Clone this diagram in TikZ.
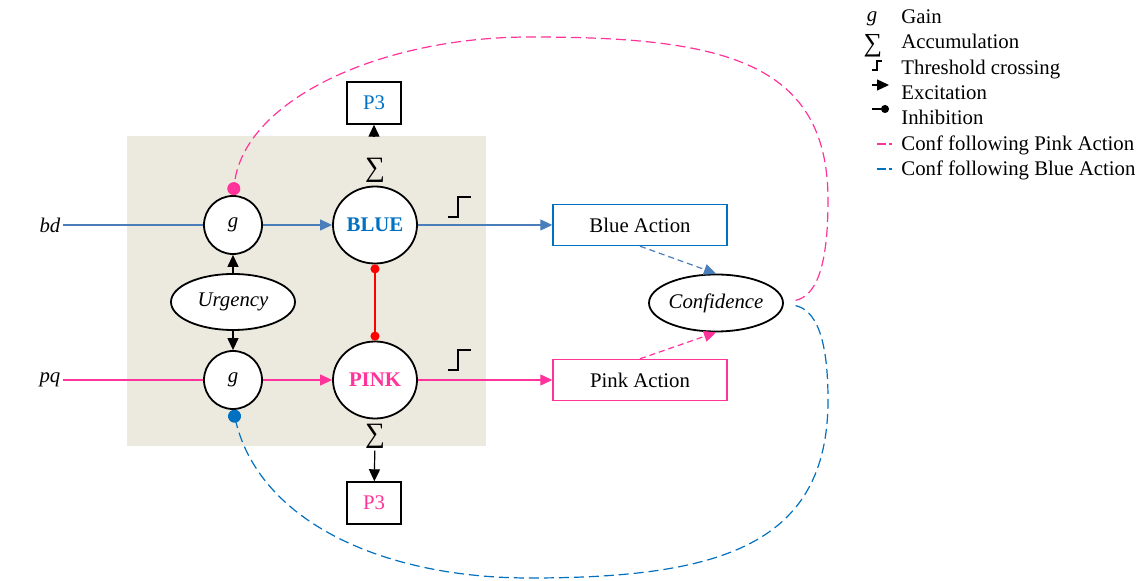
\documentclass[tikz,border=0pt]{standalone}
\usepackage{fontspec}
\setmainfont{Liberation Serif}
\usepackage{tikz}
\usetikzlibrary{arrows.meta,shapes.geometric}
\definecolor{bluetxt}{HTML}{0070C0}
\definecolor{blueln}{HTML}{4A7EBB}
\definecolor{pinkln}{HTML}{FF3399}
\definecolor{panelbg}{HTML}{ECE9DF}

\begin{document}
\begin{tikzpicture}[x=0.5pt, y=-0.5pt, font=\fontsize{10.4pt}{12.5pt}\selectfont,
    unit/.style={draw, line width=0.9pt, fill=white, circle, minimum size=29pt, inner sep=0pt},
    accum/.style={draw, line width=0.9pt, fill=white, ellipse, minimum width=42pt, minimum height=38.5pt, inner sep=0pt, font=\fontsize{10.4pt}{12.5pt}\selectfont\bfseries},
    oval/.style={draw, line width=0.9pt, fill=white, ellipse, minimum width=62pt, minimum height=28pt, inner sep=0pt, font=\fontsize{10.4pt}{12.5pt}\selectfont\itshape},
    actbox/.style={draw, line width=0.7pt, minimum width=87pt, minimum height=20.5pt, inner sep=0pt},
    outbox/.style={draw=black, line width=0.7pt, minimum width=27pt, minimum height=21pt, inner sep=0pt},
    sumsym/.style={inner sep=1pt, font=\fontsize{14pt}{15pt}\selectfont},
    exc/.style={line width=0.6pt, -{Triangle[length=6pt,width=5.5pt]}},
    inh/.style={line width=0.7pt, red, {Circle[length=4.5pt]}-{Circle[length=4.5pt]}},
    conflink/.style={line width=0.6pt, dash pattern=on 5pt off 2.5pt, -{Circle[length=6.5pt]}},
    choice/.style={line width=0.6pt, dash pattern=on 3pt off 2pt, -{Triangle[length=6pt,width=5.5pt]}},
    thresh/.style={line width=1.4pt},
    lbl/.style={anchor=base west, inner sep=0pt}]
    \useasboundingbox (0,0) rectangle (1145,581);

    \node[fill=panelbg, minimum width=179.5pt, minimum height=155pt, inner sep=0pt] (panel) at (306.5,291) {};

    \node[unit] (gB) at (233,225) {\textit{g}};
    \node[unit] (gP) at (233,380) {\textit{g}};
    \node[oval] (urg) at (233,302) {Urgency};
    \node[accum, text=bluetxt] (blue) at (375,225) {BLUE};
    \node[accum, text=pinkln] (pink) at (375,380) {PINK};
    \node[sumsym] (sigB) at (375,170) {∑};
    \node[sumsym] (sigP) at (375,436) {∑};
    \node[outbox, text=bluetxt] (p3B) at (374,103) {P3};
    \node[outbox, text=pinkln] (p3P) at (374,503) {P3};
    \node[actbox, draw=bluetxt] (bact) at (640,225) {Blue Action};
    \node[actbox, draw=pinkln] (pact) at (640,380) {Pink Action};
    \node[oval, minimum width=61.5pt, minimum height=28.5pt] (conf) at (716,303) {Confidence};
    \node[font=\fontsize{10.4pt}{12.5pt}\selectfont\itshape, inner sep=1pt] (bd) at (50,225) {bd};
    \node[font=\fontsize{10.4pt}{12.5pt}\selectfont\itshape, inner sep=1pt] (pq) at (50,380) {pq};

    \draw[blueln, line width=0.7pt] (bd) -- (gB);
    \draw[blueln, exc] (gB) -- (blue);
    \draw[blueln, exc] (blue) -- (bact);
    \draw[pinkln, line width=0.7pt] (pq) -- (gP);
    \draw[pinkln, exc] (gP) -- (pink);
    \draw[pinkln, exc] (pink) -- (pact);
    \draw[exc] (urg) -- (gB);
    \draw[exc] (urg) -- (gP);
    \draw[inh] (blue) -- (pink);
    \draw[exc] (panel.north -| p3B) -- (p3B);
    \draw[exc] (sigP) -- (p3P);
    \draw[blueln, choice] (bact.south) -- (conf.north);
    \draw[pinkln, choice] (pact.north) -- (conf.south);

    \draw[thresh] (448,217) -- (458,217) -- (458,197) -- (471,197);
    \draw[thresh] (448,370) -- (458,370) -- (458,350) -- (471,350);

    \draw[pinkln, conflink, shorten <=6pt] (conf.east) .. controls (815,296) and (828,270) .. (828,200)
        .. controls (828,60) and (720,37) .. (530,37) .. controls (380,37) and (245,100) .. (gB.north);
    \draw[bluetxt, conflink, shorten <=6pt] (conf.east) .. controls (815,310) and (828,336) .. (828,400)
        .. controls (828,545) and (720,578) .. (530,578) .. controls (380,578) and (260,520) .. (gP.south);

    % legend
    \node[inner sep=0pt, anchor=base, font=\fontsize{10.4pt}{12.5pt}\selectfont\itshape] (lgG) at (872,22) {g};
    \node[inner sep=0pt, anchor=base, font=\fontsize{13pt}{14pt}\selectfont] (lgS) at (873,52) {∑};
    \draw[thresh, line width=1pt] (872,70) -- (877,70) -- (877,61) -- (882,61);
    \draw[exc] (872,85) -- (889,85);
    \draw[line width=0.6pt, -{Circle[length=4pt]}] (872,109) -- (889,109);
    \draw[pinkln, line width=0.6pt, dash pattern=on 4.5pt off 1.5pt] (877,144) -- (892,144);
    \draw[bluetxt, line width=0.6pt, dash pattern=on 4.5pt off 1.5pt] (877,169) -- (892,169);
    \node[lbl] (lgGain) at (901,24) {Gain};
    \node[lbl] (lgAcc) at (901,49) {Accumulation};
    \node[lbl] (lgThr) at (901,75) {Threshold crossing};
    \node[lbl] (lgExc) at (901,100) {Excitation};
    \node[lbl] (lgInh) at (901,125) {Inhibition};
    \node[lbl] (lgPink) at (901,151) {Conf following Pink Action};
    \node[lbl] (lgBlue) at (901,176) {Conf following Blue Action};
\end{tikzpicture}
\end{document}
